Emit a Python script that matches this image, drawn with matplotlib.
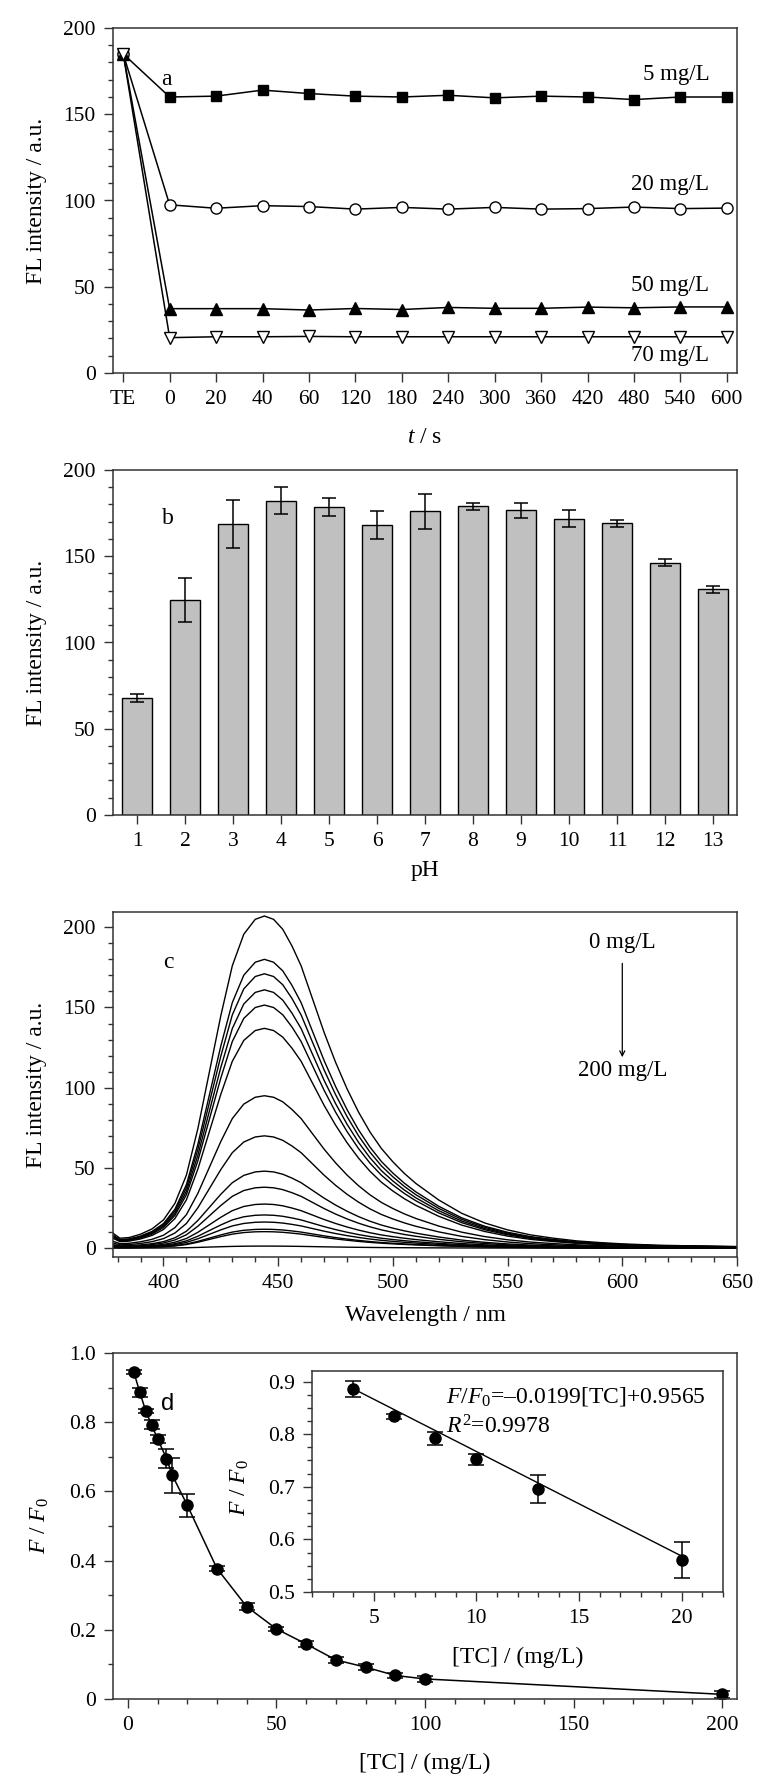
import numpy as np
import matplotlib
matplotlib.use('Agg')
import matplotlib.pyplot as plt
from matplotlib.ticker import MultipleLocator

plt.rcParams['font.family'] = ['Liberation Serif', 'DejaVu Serif']
plt.rcParams['mathtext.fontset'] = 'custom'
plt.rcParams['mathtext.rm'] = 'Liberation Serif'
plt.rcParams['mathtext.it'] = 'Liberation Serif:italic'
plt.rcParams['mathtext.bf'] = 'Liberation Serif:bold'

# panel a : time stability
time_labels = ['TE', '0', '20', '40', '60', '120', '180', '240', '300',
               '360', '420', '480', '540', '600']
fl_5 = [185, 160, 160.5, 164, 162, 160.5, 160, 161, 159.5, 160.5, 160, 158.5, 160, 160]
fl_20 = [185, 97.5, 95.5, 97, 96.5, 95, 96, 95, 96, 95, 95.3, 96.2, 95.3, 95.6]
fl_50 = [185, 37.3, 37.3, 37.3, 36.5, 37.4, 36.8, 38, 37.5, 37.5, 38.2, 37.8, 38.3, 38.3]
fl_70 = [185, 20.5, 21, 21, 21.2, 21, 21, 21, 21, 21, 21, 21, 21, 21]
conc_labels_a = ['5 mg/L', '20 mg/L', '50 mg/L', '70 mg/L']
conc_label_y = [173, 109, 51, 10]

# panel b : pH
ph = np.arange(1, 14)
fl_ph = [68, 124.4, 168.7, 182.2, 178.4, 168.1, 176, 179.1, 176.6, 171.8, 169.1, 146.3, 130.8]
fl_ph_err = [2.3, 12.8, 13.8, 7.7, 5.3, 8, 10.3, 2, 4.5, 4.9, 1.9, 2.2, 2]

# panel c : emission spectra (normalised profile)
wavelength = [378, 381, 385, 390, 395, 400, 405, 410, 415, 420, 425, 430, 435, 440,
              444, 448, 452, 456, 460, 465, 470, 475, 480, 485, 490, 495, 500, 505,
              510, 520, 530, 540, 550, 560, 570, 580, 590, 600, 615, 630, 650]
profile = [0.045, 0.030, 0.032, 0.042, 0.058, 0.085, 0.135, 0.22, 0.36, 0.53, 0.70,
           0.85, 0.945, 0.99, 1.0, 0.99, 0.96, 0.91, 0.85, 0.75, 0.65, 0.56, 0.48,
           0.41, 0.35, 0.30, 0.26, 0.225, 0.195, 0.145, 0.105, 0.076, 0.055, 0.04,
           0.03, 0.022, 0.017, 0.013, 0.009, 0.007, 0.005]
peak_heights = [207, 180, 171, 161, 151.5, 137, 95, 70, 48, 38, 27.5, 20.7, 16.3,
                11.8, 10.3, 1.3]

# panel d : quenching
tc = [2, 4, 6, 8, 10, 13, 15, 20, 30, 40, 50, 60, 70, 80, 90, 100, 200]
ff0 = [0.945, 0.887, 0.833, 0.792, 0.752, 0.695, 0.646, 0.560, 0.377, 0.267,
       0.2025, 0.159, 0.113, 0.092, 0.068, 0.058, 0.0135]
ff0_err = [0.005, 0.013, 0.005, 0.013, 0.012, 0.028, 0.05, 0.033, 0.008, 0.01,
           0.007, 0.01, 0.008, 0.008, 0.008, 0.008, 0.01]
tc_lin = [4, 6, 8, 10, 13, 20]
ff0_lin = [0.886, 0.834, 0.792, 0.752, 0.696, 0.561]
ff0_lin_err = [0.015, 0.005, 0.013, 0.010, 0.027, 0.034]
fit_slope = -0.0199
fit_intercept = 0.966

TICK = 15.5
LAB = 17
W, H = 765, 1776


def box(l, t, r, b):
    return [l / W, 1 - b / H, (r - l) / W, (b - t) / H]


def style(ax):
    for s in ax.spines.values():
        s.set_linewidth(1.1)
        s.set_color('#333333')
    ax.tick_params(which='both', direction='out', top=False, right=False,
                   labelsize=TICK, width=1.0, color='#333333')
    ax.tick_params(which='major', length=6.5, pad=6)
    ax.tick_params(which='minor', length=3.5)


def labels(ax, xlab, ylab, xy, yx, yy=0.5):
    ax.set_xlabel(xlab, fontsize=LAB)
    ax.set_ylabel(ylab, fontsize=LAB)
    ax.xaxis.set_label_coords(0.5, xy)
    ax.xaxis.label.set_va('center')
    ax.yaxis.set_label_coords(yx, yy)
    ax.yaxis.label.set_va('center')


fig = plt.figure(figsize=(W / 100, H / 100), dpi=100)

# ---- a
ax = fig.add_axes(box(113, 28, 737, 373))
style(ax)
xa = np.arange(len(time_labels))
ax.plot(xa, fl_5, '-s', color='k', ms=7, lw=1.1)
ax.plot(xa, fl_20, '-o', color='k', mfc='white', ms=8, lw=1.1)
ax.plot(xa, fl_50, '-^', color='k', ms=8, lw=1.1)
ax.plot(xa, fl_70, '-v', color='k', mfc='white', ms=8, lw=1.1)
ax.set_xlim(-0.22, 13.22)
ax.set_ylim(0, 200)
ax.set_xticks(xa)
ax.set_xticklabels(time_labels)
ax.yaxis.set_major_locator(MultipleLocator(50))
ax.yaxis.set_minor_locator(MultipleLocator(10))
ax.text(0.92, 170, 'a', fontsize=LAB, ha='center', va='center')
for lab, yy in zip(conc_labels_a, conc_label_y):
    ax.text(12.62, yy, lab, fontsize=16.5, ha='right', va='center')
labels(ax, r'$t$ / s', 'FL intensity / a.u.', -0.186, -0.122)

# ---- b
ax = fig.add_axes(box(113, 470, 737, 815))
style(ax)
ax.bar(ph, fl_ph, width=0.62, color='#c0c0c0', edgecolor='k', linewidth=1.0,
       yerr=fl_ph_err, capsize=5, error_kw=dict(elinewidth=1.1, capthick=1.1))
ax.set_xlim(0.5, 13.5)
ax.set_ylim(0, 200)
ax.set_xticks(ph)
ax.yaxis.set_major_locator(MultipleLocator(50))
ax.yaxis.set_minor_locator(MultipleLocator(10))
ax.text(1.65, 171.6, 'b', fontsize=LAB, ha='center', va='center')
labels(ax, 'pH', 'FL intensity / a.u.', -0.162, -0.122)

# ---- c
ax = fig.add_axes(box(113, 912, 737, 1257))
style(ax)
wl = np.array(wavelength)
prof = np.array(profile)
for pk in peak_heights:
    ax.plot(wl, pk * prof, color='k', lw=1.0)
ax.set_xlim(378, 650)
ax.set_ylim(-5.5, 209.5)
ax.xaxis.set_major_locator(MultipleLocator(50))
ax.xaxis.set_minor_locator(MultipleLocator(10))
ax.yaxis.set_major_locator(MultipleLocator(50))
ax.yaxis.set_minor_locator(MultipleLocator(10))
ax.set_yticks([0, 50, 100, 150, 200])
ax.text(402, 178, 'c', fontsize=LAB, ha='center', va='center')
ax.text(600, 190.5, '0 mg/L', fontsize=16.5, ha='center', va='center')
ax.text(600, 110.5, '200 mg/L', fontsize=16.5, ha='center', va='center')
ax.annotate('', xy=(600, 119), xytext=(600, 177.5),
            arrowprops=dict(arrowstyle='->', color='k', lw=0.9,
                            shrinkA=0, shrinkB=0, mutation_scale=9))
labels(ax, 'Wavelength / nm', 'FL intensity / a.u.', -0.171, -0.122)

# ---- d
ax = fig.add_axes(box(113, 1353, 737, 1699))
style(ax)
ax.plot(tc, ff0, color='k', lw=1.1)
ax.errorbar(tc, ff0, yerr=ff0_err, fmt='o', color='k', ms=8, capsize=6,
            elinewidth=1.1, capthick=1.1)
ax.set_xlim(-5, 205)
ax.set_ylim(0, 1.0)
ax.xaxis.set_major_locator(MultipleLocator(50))
ax.xaxis.set_minor_locator(MultipleLocator(10))
ax.yaxis.set_minor_locator(MultipleLocator(0.1))
ax.set_yticks([0, 0.2, 0.4, 0.6, 0.8, 1.0])
ax.set_yticklabels(['0', '0.2', '0.4', '0.6', '0.8', '1.0'])
ax.text(13.5, 0.853, 'd', fontsize=LAB, ha='center', va='center',
        family=['Liberation Sans', 'DejaVu Sans'])
labels(ax, '[TC] / (mg/L)', r'$F$ / $F_{\mathrm{0}}$', -0.185, -0.118)

# ---- inset
ax = fig.add_axes(box(312, 1371, 723, 1592))
style(ax)
xl = np.array([tc_lin[0], tc_lin[-1]])
ax.plot(xl, fit_slope * xl + fit_intercept, color='k', lw=1.0)
ax.errorbar(tc_lin, ff0_lin, yerr=ff0_lin_err, fmt='o', color='k', ms=8,
            capsize=5.5, elinewidth=1.1, capthick=1.1)
ax.set_xlim(2, 22)
ax.set_ylim(0.5, 0.92)
ax.xaxis.set_major_locator(MultipleLocator(5))
ax.xaxis.set_minor_locator(MultipleLocator(1))
ax.yaxis.set_major_locator(MultipleLocator(0.1))
ax.yaxis.set_minor_locator(MultipleLocator(0.025))
ax.text(8.54, 0.8706, r'$F$/$F_{\mathrm{0}}$=–0.0199[TC]+0.9565', fontsize=17,
        ha='left', va='center')
ax.text(8.54, 0.814, r'$R^{\mathrm{2}}$=0.9978', fontsize=17, ha='left', va='center')
labels(ax, '[TC] / (mg/L)', r'$F$ / $F_{\mathrm{0}}$', -0.294, -0.175, 0.475)

fig.savefig('out.png', dpi=100)
